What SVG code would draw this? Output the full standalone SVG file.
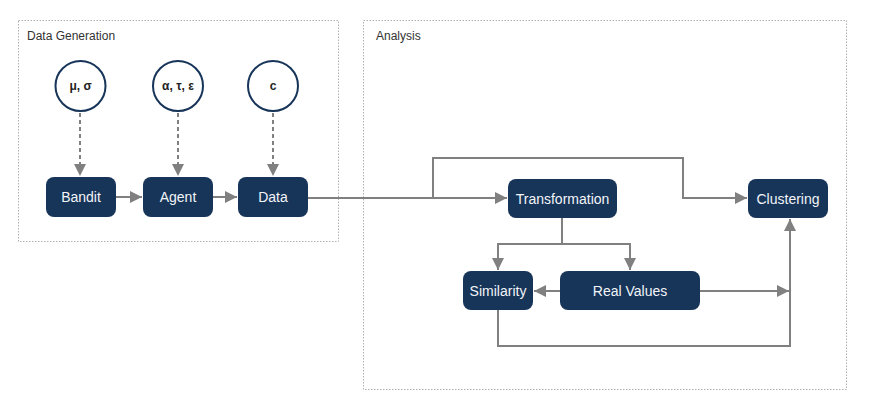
<svg xmlns="http://www.w3.org/2000/svg" width="879" height="420" viewBox="0 0 879 420">
<style>
.frame{fill:none;stroke:#b0b0b0;stroke-width:1;stroke-dasharray:1.5 1.5}
.ftxt{font-family:"Liberation Sans",Arial,sans-serif;font-size:12px;fill:#333}
.node rect{fill:#173459;stroke:none}
.node text{font-family:"Liberation Sans",Arial,sans-serif;font-size:14px;fill:#f2f4f8;text-anchor:middle;dominant-baseline:central}
.param circle{fill:#fff;stroke:#173459;stroke-width:2}
.param text{font-family:"Liberation Sans",Arial,sans-serif;font-size:12px;font-weight:bold;fill:#222;text-anchor:middle;dominant-baseline:central}
.c{fill:none;stroke:#808080;stroke-width:2}
.d{stroke-dasharray:4 3}
</style>
<defs>
<marker id="ah" viewBox="0 0 10 10" refX="10" refY="5" markerWidth="12" markerHeight="12" markerUnits="userSpaceOnUse" orient="auto">
<path d="M0,0 L10,5 L0,10 z" fill="#808080"/>
</marker>
</defs>
<g id="frames">
<rect class="frame" x="18.5" y="20.5" width="320" height="221"/>
<text class="ftxt" x="27" y="40">Data Generation</text>
<rect class="frame" x="363.5" y="20.5" width="483" height="369"/>
<text class="ftxt" x="376" y="40">Analysis</text>
</g>
<g id="connectors">
<path class="c d" d="M80,113 V176" marker-end="url(#ah)"/>
<path class="c d" d="M178,113 V176" marker-end="url(#ah)"/>
<path class="c d" d="M273,113 V176" marker-end="url(#ah)"/>
<path class="c" d="M116,197 H142" marker-end="url(#ah)"/>
<path class="c" d="M213,197 H237" marker-end="url(#ah)"/>
<path class="c" d="M308,198 H507" marker-end="url(#ah)"/>
<path class="c" d="M433,198 V158 H683 V198 H747" marker-end="url(#ah)"/>
<path class="c" d="M562,218 V244"/>
<path class="c" d="M498,244 H630"/>
<path class="c" d="M498,243 V270" marker-end="url(#ah)"/>
<path class="c" d="M630,243 V270" marker-end="url(#ah)"/>
<path class="c" d="M560,291 H534" marker-end="url(#ah)"/>
<path class="c" d="M700,291 H789" marker-end="url(#ah)"/>
<path class="c" d="M498,310 V346 H790 V219" marker-end="url(#ah)"/>
</g>
<g id="mu-sigma" class="param"><circle cx="80.5" cy="86" r="25"/><text x="80.5" y="86">μ, σ</text></g>
<g id="alpha-tau-eps" class="param"><circle cx="178" cy="86" r="25"/><text x="178" y="86">α, τ, ε</text></g>
<g id="c" class="param"><circle cx="273" cy="86" r="25"/><text x="273" y="86">c</text></g>
<g id="bandit" class="node"><rect x="46" y="177" width="70" height="40" rx="8"/><text x="81" y="197">Bandit</text></g>
<g id="agent" class="node"><rect x="143" y="177" width="70" height="40" rx="8"/><text x="178" y="197">Agent</text></g>
<g id="data" class="node"><rect x="238" y="177" width="70" height="40" rx="8"/><text x="273" y="197">Data</text></g>
<g id="transformation" class="node"><rect x="508" y="179" width="109" height="39" rx="8"/><text x="562.5" y="198.5">Transformation</text></g>
<g id="clustering" class="node"><rect x="748" y="179" width="80" height="39" rx="8"/><text x="788" y="198.5">Clustering</text></g>
<g id="similarity" class="node"><rect x="463" y="271" width="70" height="39" rx="8"/><text x="498" y="290.5">Similarity</text></g>
<g id="real-values" class="node"><rect x="560" y="271" width="140" height="39" rx="8"/><text x="630" y="290.5">Real Values</text></g>
</svg>
